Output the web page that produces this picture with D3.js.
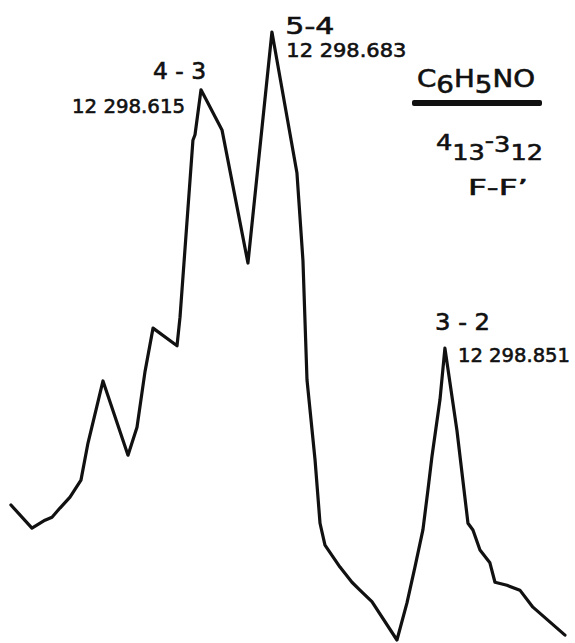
<!DOCTYPE html>
<html>
<head>
<meta charset="utf-8">
<script src="https://cdn.jsdelivr.net/npm/d3@7"></script>
<style>
  html, body { margin: 0; padding: 0; background: #fff; }
  svg { display: block; font-family: "DejaVu Sans", sans-serif; }
</style>
</head>
<body>
<div id="chart"></div>
<script>
// Frequency (MHz) of each trace point
const freqs = [
  12298.4312, 12298.4515, 12298.4641, 12298.4709, 12298.4786, 12298.4883,
  12298.4989, 12298.5057, 12298.5134, 12298.5202, 12298.5444, 12298.5531,
  12298.5608, 12298.5686, 12298.5918, 12298.5947, 12298.6072, 12298.6092,
  12298.6150, 12298.6353, 12298.6604, 12298.6836, 12298.7078, 12298.7136,
  12298.7175, 12298.7253, 12298.7301, 12298.7349, 12298.7494, 12298.7610,
  12298.7687, 12298.7803, 12298.8045, 12298.8142, 12298.8219, 12298.8296,
  12298.8345, 12298.8383, 12298.8461, 12298.8509, 12298.8625,
  12298.8732, 12298.8780, 12298.8848, 12298.8944, 12298.8993,
  12298.9109, 12298.9234, 12298.9360, 12298.9670
];
// Relative intensity (arbitrary units, 5-4 peak = 100)
const intensity = [
  22.2, 18.4, 19.7, 20.2, 21.7, 23.5,
  26.3, 32.4, 37.8, 42.6, 30.4, 35.0,
  44.1, 51.3, 48.4, 53.1, 82.2, 83.1,
  90.5, 83.9, 62.0, 100.0, 76.8, 62.4,
  42.8, 29.6, 19.2, 15.6, 12.0, 9.5,
  8.2, 6.3, 0.0, 6.1, 12.0, 18.1,
  24.7, 30.1, 39.5, 48.0, 34.5,
  19.2, 18.1, 14.8, 12.7, 9.5,
  9.0, 8.2, 5.4, 0.8
];

// Hyperfine components F-F'
const peakNames = ['4 - 3', '5-4', '3 - 2'];
const peakFreqs = [12298.615, 12298.683, 12298.851];
const peakLabels = ['12 298.615', '12 298.683', '12 298.851'];

const width = 575, height = 643;

const x = d3.scaleLinear().domain([12298.4206, 12298.9767]).range([0, width]);
const y = d3.scaleLinear().domain([0, 100]).range([640, 32]);

const svg = d3.select('#chart').append('svg')
  .attr('width', width)
  .attr('height', height);

const points = freqs.map((f, i) => ({ f: f, v: intensity[i] }));

const line = d3.line()
  .x(d => x(d.f))
  .y(d => y(d.v));

svg.append('path')
  .datum(points)
  .attr('d', line)
  .attr('fill', 'none')
  .attr('stroke', '#111')
  .attr('stroke-width', 3.2)
  .attr('stroke-linejoin', 'round')
  .attr('stroke-linecap', 'round');

// intensity at a labelled peak, taken from the trace
function peakY(f) {
  let best = points[0];
  points.forEach(p => { if (Math.abs(p.f - f) < Math.abs(best.f - f)) best = p; });
  return y(best.v);
}

// label offsets relative to each peak
const nameOffsets = [[-48, -11, 'start', 53], [14, 2, 'start', 49], [-10, -18, 'start', 55]];
const freqOffsets = [[-16, 23, 'end', 113], [15, 25, 'start', 120], [13, 14, 'start', 112]];

// all lettering is a little heavier than the regular face
function ink(sel) {
  return sel.attr('fill', '#111').attr('stroke', '#111').attr('stroke-width', 0.6);
}

peakFreqs.forEach((f, i) => {
  const px = x(f), py = peakY(f);
  svg.append('text')
    .attr('x', px + nameOffsets[i][0])
    .attr('y', py + nameOffsets[i][1])
    .attr('text-anchor', nameOffsets[i][2])
    .attr('textLength', nameOffsets[i][3])
    .attr('lengthAdjust', 'spacingAndGlyphs')
    .attr('font-size', 23)
    .call(ink)
    .text(peakNames[i]);
  svg.append('text')
    .attr('x', px + freqOffsets[i][0])
    .attr('y', py + freqOffsets[i][1])
    .attr('text-anchor', freqOffsets[i][2])
    .attr('textLength', freqOffsets[i][3])
    .attr('lengthAdjust', 'spacingAndGlyphs')
    .attr('font-size', 19.5)
    .call(ink)
    .text(peakLabels[i]);
});

// molecule / transition legend block
const legend = svg.append('g');

const formula = legend.append('text')
  .attr('x', 417).attr('y', 87)
  .attr('font-size', 24)
  .attr('textLength', 118)
  .attr('lengthAdjust', 'spacingAndGlyphs')
  .call(ink);
formula.append('tspan').text('C');
formula.append('tspan').attr('dy', 6).text('6');
formula.append('tspan').attr('dy', -6).text('H');
formula.append('tspan').attr('dy', 6).text('5');
formula.append('tspan').attr('dy', -6).text('NO');

legend.append('rect')
  .attr('x', 412).attr('y', 100)
  .attr('width', 130).attr('height', 6)
  .attr('rx', 2)
  .attr('fill', '#111');

const trans = legend.append('text')
  .attr('x', 436).attr('y', 150)
  .attr('font-size', 22)
  .attr('textLength', 107)
  .attr('lengthAdjust', 'spacingAndGlyphs')
  .call(ink);
trans.append('tspan').text('4');
trans.append('tspan').attr('dy', 10).text('13');
trans.append('tspan').attr('dy', -12).text('-');
trans.append('tspan').attr('dy', 4).text('3');
trans.append('tspan').attr('dy', 8).text('12');

legend.append('text')
  .attr('x', 468).attr('y', 195)
  .attr('font-size', 21)
  .attr('textLength', 60)
  .attr('lengthAdjust', 'spacingAndGlyphs')
  .call(ink)
  .text('F-F\u2019');
</script>
</body>
</html>
